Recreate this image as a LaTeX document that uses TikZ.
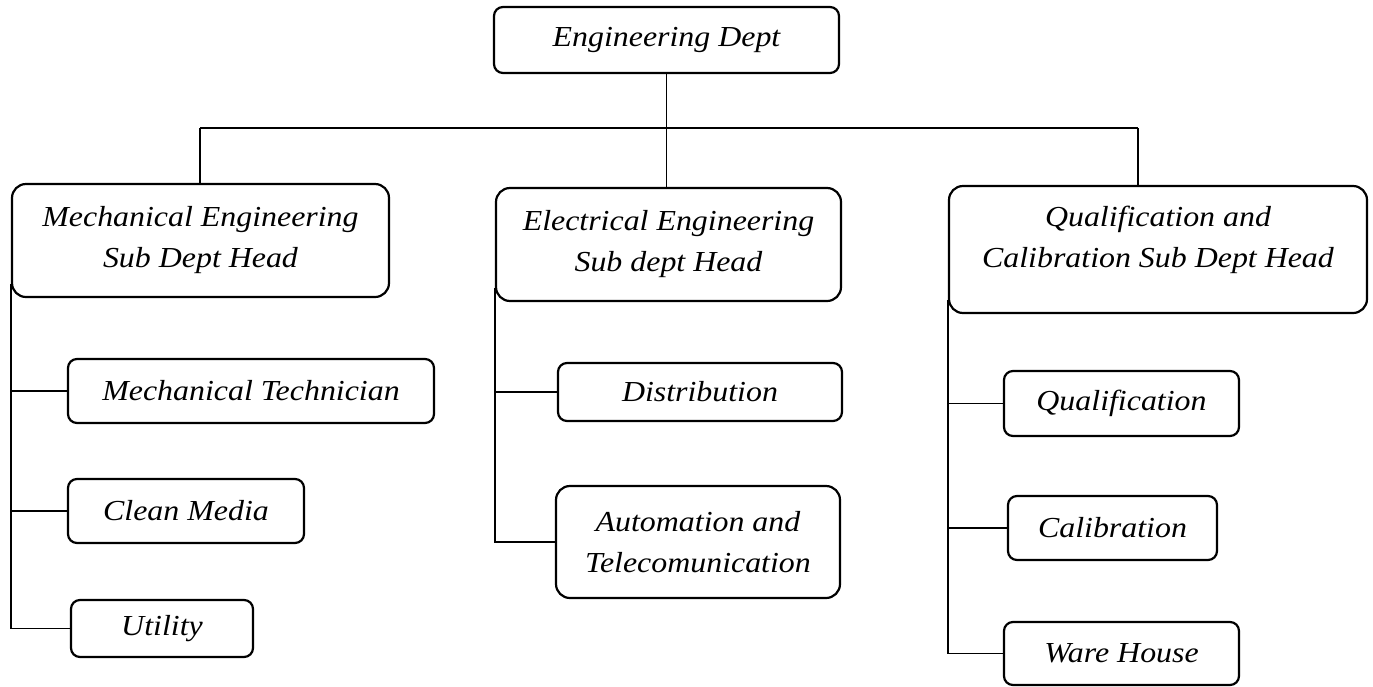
\documentclass[tikz,border=0pt]{standalone}
\usepackage{fontspec}
\setmainfont{Liberation Serif}[FakeStretch=1.1]
\begin{document}
\begin{tikzpicture}[x=1pt,y=-1pt,
  box/.style={draw, line width=2.2pt, rounded corners=9pt, align=center, inner sep=0pt,
    font=\fontsize{29}{41}\selectfont\itshape},
  headbox/.style={box, rounded corners=14pt},
  link/.style={line width=1.9pt}]
\useasboundingbox (0,0) rectangle (1373,686);

% top of the chart
\node[box, minimum width=345pt, minimum height=66pt] (eng) at (666.5,40) {Engineering Dept};

% sub-department heads
\node[headbox, minimum width=377pt, minimum height=113pt] (mech) at (200.5,240.5)
  {Mechanical Engineering\\Sub Dept Head};
\node[headbox, minimum width=345pt, minimum height=113pt] (elec) at (668.5,244.5)
  {Electrical Engineering\\Sub dept Head};
\node[headbox, minimum width=418pt, minimum height=127pt] (qual) at (1158,249.5)
  {Qualification and\\Calibration Sub Dept Head\rule[-25pt]{0pt}{25pt}};

% mechanical sections
\node[box, minimum width=366pt, minimum height=64pt] (mtech) at (251,391) {Mechanical Technician};
\node[box, minimum width=236pt, minimum height=64pt] (clean) at (186,511) {Clean Media};
\node[box, minimum width=182pt, minimum height=57pt] (util) at (162,628.5) {Utility};

% electrical sections
\node[box, minimum width=284pt, minimum height=58pt] (dist) at (700,392) {Distribution};
\node[headbox, minimum width=284pt, minimum height=112pt] (auto) at (698,542)
  {Automation and\\Telecomunication};

% qualification sections
\node[box, minimum width=235pt, minimum height=65pt] (qualf) at (1121.5,403.5) {Qualification};
\node[box, minimum width=209pt, minimum height=64pt] (calib) at (1112.5,528) {Calibration};
\node[box, minimum width=235pt, minimum height=63pt] (ware) at (1121.5,653.5) {Ware House};

% bus from the top box to the heads
\coordinate (busL) at (200,128);
\coordinate (busR) at (1138,128);
\draw[link] (busL) -- (busR);
\draw[link] (eng.south) -- (eng.south |- elec.north);
\draw[link] (busL) -- (busL |- mech.north);
\draw[link] (busR) -- (busR |- qual.north);

% mechanical branch
\draw[link] ([yshift=14pt]mech.south west) |- (util.west);
\draw[link] (mtech.west) -- (mtech.west -| mech.west);
\draw[link] (clean.west) -- (clean.west -| mech.west);

% electrical branch
\draw[link] ([yshift=14pt]elec.south west) |- (auto.west);
\draw[link] (dist.west) -- (dist.west -| elec.west);

% qualification branch
\draw[link] ([yshift=14pt]qual.south west) |- (ware.west);
\draw[link] (qualf.west) -- (qualf.west -| qual.west);
\draw[link] (calib.west) -- (calib.west -| qual.west);
\end{tikzpicture}
\end{document}
